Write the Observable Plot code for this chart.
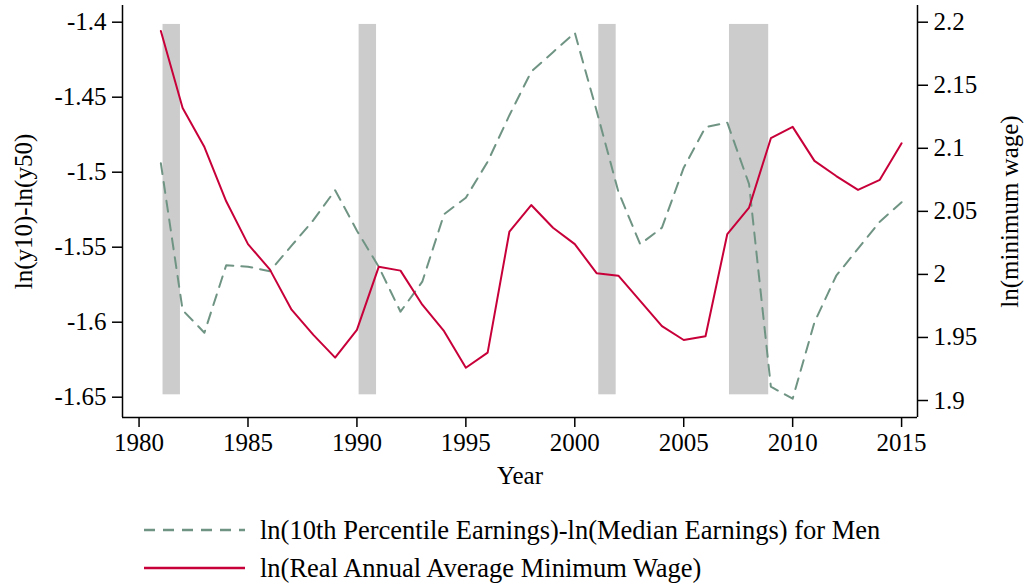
<!DOCTYPE html>
<html>
<head>
<meta charset="utf-8">
<script src="https://cdn.jsdelivr.net/npm/d3@7"></script>
<script src="https://cdn.jsdelivr.net/npm/@observablehq/plot@0.6"></script>
<style>
  html, body { margin: 0; padding: 0; background: #fff; }
  #wrap { position: relative; width: 1028px; height: 587px; font-family: "Liberation Serif", Tinos, "Times New Roman", Times, "Noto Serif", "DejaVu Serif", serif; }
  .leg { position: absolute; left: 0; font-size: 26.5px; color: #000; white-space: nowrap; display: flex; align-items: center; }
  .leg svg { display: block; }
</style>
</head>
<body>
<div id="wrap"></div>
<script>
const years = [1981,1982,1983,1984,1985,1986,1987,1988,1989,1990,1991,1992,1993,1994,1995,1996,1997,1998,1999,2000,2001,2002,2003,2004,2005,2006,2007,2008,2009,2010,2011,2012,2013,2014,2015];
// ln(10th percentile) - ln(median) for men (left axis)
const gap10_50 = [-1.494,-1.592,-1.607,-1.562,-1.563,-1.566,-1.549,-1.532,-1.512,-1.539,-1.563,-1.593,-1.573,-1.528,-1.517,-1.493,-1.462,-1.433,-1.420,-1.407,-1.459,-1.513,-1.548,-1.537,-1.497,-1.470,-1.467,-1.508,-1.643,-1.651,-1.600,-1.569,-1.551,-1.533,-1.520];
// ln(real annual average minimum wage) (right axis)
const lnMinWage = [2.193,2.132,2.101,2.058,2.024,2.004,1.972,1.952,1.934,1.956,2.006,2.003,1.976,1.955,1.926,1.938,2.034,2.055,2.037,2.024,2.001,1.999,1.979,1.959,1.948,1.951,2.032,2.053,2.108,2.117,2.090,2.078,2.067,2.075,2.104];
// recession shading
const recStart = [1981.1, 1990.1, 2001.1, 2007.1];
const recEnd   = [1981.9, 1990.9, 2001.9, 2008.9];
const recLow = -1.6484, recHigh = -1.4015;

const xTicks = [1980,1985,1990,1995,2000,2005,2010,2015];
const leftTicks = [-1.4,-1.45,-1.5,-1.55,-1.6,-1.65];
const leftTickLabels = ["-1.4","-1.45","-1.5","-1.55","-1.6","-1.65"];
const rightTicks = [2.2,2.15,2.1,2.05,2,1.95,1.9];
const rightTickLabels = ["2.2","2.15","2.1","2.05","2","1.95","1.9"];

const leftDomain = [-1.66353, -1.38887];
const rightDomain = [1.88652, 2.21324];
const xDomain = [1979.24, 2015.73];

const toLeft = d3.scaleLinear().domain(rightDomain).range(leftDomain);

const data = years.map((y, i) => ({year: y, gap: gap10_50[i], mw: toLeft(lnMinWage[i])}));
const recessions = recStart.map((s, i) => ({start: s, end: recEnd[i]}));
const rightPos = rightTicks.map(t => toLeft(t));

const green = "#6f9484";
const red = "#c8003a";
const font = "'Liberation Serif', Tinos, 'Times New Roman', Times, 'Noto Serif', 'DejaVu Serif', serif";

const chart = Plot.plot({
  width: 1028,
  height: 490,
  marginLeft: 122,
  marginRight: 111,
  marginTop: 5,
  marginBottom: 73,
  style: {fontFamily: font, fontSize: "25px", color: "#000", background: "#fff"},
  x: {domain: xDomain},
  y: {domain: leftDomain},
  marks: [
    Plot.rect(recessions, {x1: "start", x2: "end", y1: recLow, y2: recHigh, fill: "#cccccc"}),
    Plot.line(data, {x: "year", y: "gap", stroke: green, strokeWidth: 2, strokeDasharray: "11,8"}),
    Plot.line(data, {x: "year", y: "mw", stroke: red, strokeWidth: 2}),
    Plot.ruleX([xDomain[0], xDomain[1]], {stroke: "#000", strokeWidth: 1.5}),
    Plot.ruleY([leftDomain[0]], {stroke: "#000", strokeWidth: 1.5}),
    Plot.axisX({ticks: xTicks, tickFormat: d => String(d), tickSize: 10, tickPadding: 6, strokeWidth: 1.5,
      label: "Year", labelAnchor: "center", labelArrow: "none", labelOffset: 66, fontSize: 25}),
    Plot.axisY({anchor: "left", ticks: leftTicks, tickFormat: (d, i) => leftTickLabels[i], tickSize: 10, tickPadding: 6, strokeWidth: 1.5,
      label: "ln(y10)-ln(y50)", labelAnchor: "center", labelArrow: "none", labelOffset: 108, fontSize: 25}),
    Plot.axisY({anchor: "right", ticks: rightPos, tickFormat: (d, i) => rightTickLabels[i], tickSize: 10, tickPadding: 6, strokeWidth: 1.5,
      label: "ln(minimum wage)", labelAnchor: "center", labelArrow: "none", labelOffset: 100, fontSize: 25})
  ]
});

const wrap = document.getElementById("wrap");
wrap.appendChild(chart);

const legendItems = [
  {label: "ln(10th Percentile Earnings)-ln(Median Earnings) for Men", color: green, dash: "11,8", top: 513},
  {label: "ln(Real Annual Average Minimum Wage)", color: red, dash: null, top: 551}
];
for (const it of legendItems) {
  const div = document.createElement("div");
  div.className = "leg";
  div.style.top = it.top + "px";
  div.style.height = "34px";
  const ns = "http://www.w3.org/2000/svg";
  const s = document.createElementNS(ns, "svg");
  s.setAttribute("width", 260);
  s.setAttribute("height", 34);
  const ln = document.createElementNS(ns, "line");
  ln.setAttribute("x1", 144); ln.setAttribute("x2", 245);
  ln.setAttribute("y1", 17); ln.setAttribute("y2", 17);
  ln.setAttribute("stroke", it.color); ln.setAttribute("stroke-width", 2.5);
  if (it.dash) ln.setAttribute("stroke-dasharray", it.dash);
  s.appendChild(ln);
  div.appendChild(s);
  const t = document.createElement("span");
  t.textContent = it.label;
  div.appendChild(t);
  wrap.appendChild(div);
}
</script>
</body>
</html>
